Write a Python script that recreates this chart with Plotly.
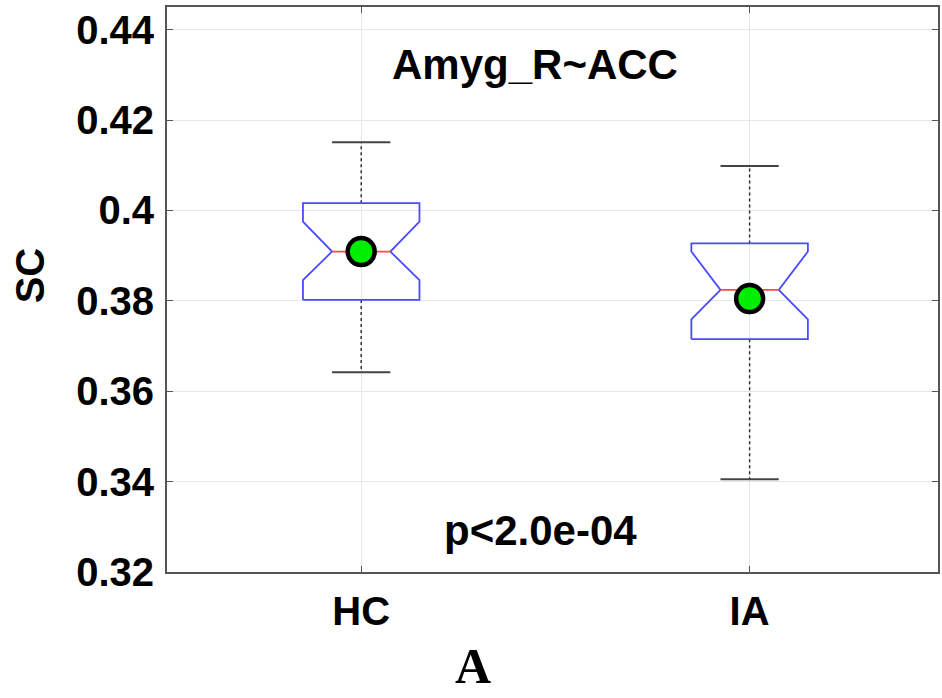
import plotly.graph_objects as go

# ---- data ----
groups = ["HC", "IA"]
positions = [1, 2]
q1 = [0.3802, 0.3715]
q3 = [0.4016, 0.3927]
medians = [0.3909, 0.3824]
notch_lo = [0.3846, 0.3759]
notch_hi = [0.3975, 0.3909]
whisker_lo = [0.3642, 0.3405]
whisker_hi = [0.4151, 0.4098]
means = [0.3909, 0.3805]
y_ticks = [0.32, 0.34, 0.36, 0.38, 0.40, 0.42, 0.44]
y_tick_text = ["0.32", "0.34", "0.36", "0.38", "0.4", "0.42", "0.44"]
title_text = "Amyg_R~ACC"
p_text = "p<2.0e-04"

# ---- styles ----
BOX_HALF = 0.15
NOTCH_HALF = 0.075
CAP_HALF = 0.075
BOX_COLOR = "#4a4aff"
MED_COLOR = "#ff4a4a"
WHISK_COLOR = "#333333"
FONT = "Liberation Sans, Arial, Helvetica, sans-serif"

fig = go.Figure()

for i, p in enumerate(positions):
    # whiskers (dotted)
    fig.add_trace(go.Scatter(
        x=[p, p, None, p, p],
        y=[q3[i], whisker_hi[i], None, q1[i], whisker_lo[i]],
        mode="lines", line=dict(color=WHISK_COLOR, width=1.5, dash="dot"),
        hoverinfo="skip", showlegend=False))
    # caps (solid)
    fig.add_trace(go.Scatter(
        x=[p - CAP_HALF, p + CAP_HALF, None, p - CAP_HALF, p + CAP_HALF],
        y=[whisker_hi[i], whisker_hi[i], None, whisker_lo[i], whisker_lo[i]],
        mode="lines", line=dict(color="#444444", width=2),
        hoverinfo="skip", showlegend=False))
    # notched box outline
    bx = [p - BOX_HALF, p - BOX_HALF, p - NOTCH_HALF, p - BOX_HALF, p - BOX_HALF,
          p + BOX_HALF, p + BOX_HALF, p + NOTCH_HALF, p + BOX_HALF, p + BOX_HALF,
          p - BOX_HALF]
    by = [q1[i], notch_lo[i], medians[i], notch_hi[i], q3[i],
          q3[i], notch_hi[i], medians[i], notch_lo[i], q1[i],
          q1[i]]
    fig.add_trace(go.Scatter(
        x=bx, y=by, mode="lines",
        line=dict(color=BOX_COLOR, width=1.8),
        hoverinfo="skip", showlegend=False))
    # median
    fig.add_trace(go.Scatter(
        x=[p - NOTCH_HALF, p + NOTCH_HALF], y=[medians[i], medians[i]],
        mode="lines", line=dict(color=MED_COLOR, width=1.8),
        hoverinfo="skip", showlegend=False))

# means
fig.add_trace(go.Scatter(
    x=positions, y=means, mode="markers",
    marker=dict(size=27, color="#00ee00", line=dict(color="black", width=4.5)),
    showlegend=False))

def ann(x, y, text, size, family=FONT, angle=0):
    fig.add_annotation(x=x, y=y, xref="paper", yref="paper", text=text,
                       xanchor="center", yanchor="middle", textangle=angle,
                       showarrow=False,
                       font=dict(family=family, size=size, color="black", weight="bold"))

ann(0.477, 0.899, title_text, 42)
ann(0.484, 0.0743, p_text, 42)
ann(-0.1772, 0.5257, "SC", 40, angle=-90)
ann(0.397, -0.166, "A", 50, family="Liberation Serif, Times New Roman, serif")

fig.update_layout(
    width=942, height=698,
    margin=dict(l=167, r=2, t=7, b=126),
    paper_bgcolor="white", plot_bgcolor="white",
    xaxis=dict(range=[0.5, 2.485], tickvals=positions, ticktext=groups,
               showgrid=True, gridcolor="#e6e6e6", gridwidth=1,
               zeroline=False, showline=True, linecolor="#555555", linewidth=2, mirror="ticks",
               ticks="inside", ticklen=6, tickcolor="#555555",
               tickfont=dict(family=FONT, size=40, color="black", weight="bold"),
               ticklabelstandoff=3),
    yaxis=dict(range=[0.32, 0.445], tickvals=y_ticks, ticktext=y_tick_text,
               showgrid=True, gridcolor="#e6e6e6", gridwidth=1,
               zeroline=False, showline=True, linecolor="#555555", linewidth=2, mirror="ticks",
               ticks="inside", ticklen=6, tickcolor="#555555",
               tickfont=dict(family=FONT, size=40, color="black", weight="bold"),
               ticklabelstandoff=3),
)

fig.write_html("out.html")
